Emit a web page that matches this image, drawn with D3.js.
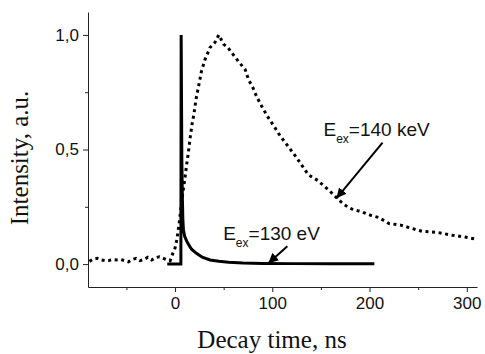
<!DOCTYPE html>
<html>
<head>
<meta charset="utf-8">
<script src="https://cdn.jsdelivr.net/npm/d3@7"></script>
<style>
  html, body { margin: 0; padding: 0; background: #fff; }
  svg { display: block; }
  .axis text { font-family: "Liberation Sans", Arial, sans-serif; font-size: 17px; fill: #111; }
  .axis path, .axis line { stroke: #222; stroke-width: 1; }
  .title { font-family: "Liberation Serif", "Times New Roman", serif; font-size: 25px; fill: #111; }
  .note { font-family: "Liberation Sans", Arial, sans-serif; font-size: 19px; fill: #111; }
</style>
</head>
<body>
<svg id="chart" width="485" height="354"></svg>
<script>
// ── Data ──
// 130 eV excitation: sharp peak, fast decay (solid)
const fastTime = [-8, 6, 6.3, 7, 7.5, 8, 8.6, 10, 12, 14, 17, 22, 28, 36, 45, 55, 70, 90, 120, 160, 205];
const fastVal  = [0, 0, 1.0, 0.45, 0.3, 0.2, 0.15, 0.12, 0.1, 0.085, 0.065, 0.047, 0.03, 0.018, 0.012, 0.008, 0.005, 0.003, 0.002, 0.001, 0.001];

// 140 keV excitation: slow rise and decay (dotted)
const slowTime = [-88, -84, -80, -76, -72, -68, -64, -60, -56, -52, -48, -44, -40, -36, -32, -28, -24, -20, -16, -12, -8, -5,
  -2, 0, 2, 4, 6, 8, 10, 11.5, 13.5, 15.5, 17.5, 19.6, 21.6, 24.4, 27.1, 30.6, 36, 41, 45, 49.8, 54.3, 60, 66, 72, 75.6,
  80, 84, 89, 95, 102, 108, 117, 124, 130.6, 137, 146.7, 158.8, 166, 173.5, 182, 192.5, 201, 209.6, 220, 232, 244, 254,
  270, 285, 297, 309];
const slowVal  = [0.012, 0.022, 0.025, 0.018, 0.015, 0.016, 0.02, 0.018, 0.02, 0.015, 0.01, 0.02, 0.025, 0.015, 0.02, 0.03, 0.018, 0.028, 0.032, 0.025, 0.018, 0.015,
  0.05, 0.07, 0.11, 0.17, 0.24, 0.31, 0.37, 0.42, 0.48, 0.55, 0.61, 0.66, 0.72, 0.78, 0.84, 0.89, 0.945, 0.967, 1.0, 0.96, 0.945, 0.913, 0.88, 0.85, 0.805,
  0.77, 0.73, 0.69, 0.645, 0.6, 0.56, 0.51, 0.47, 0.43, 0.39, 0.365, 0.32, 0.29, 0.26, 0.24, 0.227, 0.213, 0.203, 0.177, 0.17, 0.155, 0.143,
  0.138, 0.126, 0.119, 0.109];

const xTicks = [0, 100, 200, 300];
const xMinor = [-50, 50, 150, 250];
const yTicks = [0, 0.5, 1.0];
const yMinor = [0.25, 0.75];

// annotations in data coordinates: label anchor, arrow tail, arrow tip
const notes = [
  { main: 'E', sub: 'ex', rest: '=140 keV', at: [152.6, 0.56], from: [213.4, 0.53], to: [166, 0.287] },
  { main: 'E', sub: 'ex', rest: '=130 eV', at: [49.5, 0.104], from: [115.5, 0.078], to: [95.9, 0.004] }
];

const svg = d3.select('#chart');

const x = d3.scaleLinear().domain([-89.5, 310.5]).range([88, 477]);
const y = d3.scaleLinear().domain([-0.1, 1.1]).range([287, 12]);
const fmt = d => d3.format('.1f')(d).replace('.', ',');

// Axes
svg.append('g').attr('class', 'axis')
  .attr('transform', `translate(0,${y.range()[0]})`)
  .call(d3.axisBottom(x).tickValues(xTicks).tickSize(5).tickSizeOuter(0).tickPadding(5));
svg.append('g').attr('class', 'axis')
  .attr('transform', `translate(0,${y.range()[0]})`)
  .call(d3.axisBottom(x).tickValues(xMinor).tickSize(3).tickSizeOuter(0).tickFormat(''))
  .select('.domain').remove();

svg.append('g').attr('class', 'axis')
  .attr('transform', `translate(${x.range()[0]},0)`)
  .call(d3.axisLeft(y).tickValues(yTicks).tickFormat(fmt).tickSize(5).tickSizeOuter(0).tickPadding(4));
svg.append('g').attr('class', 'axis')
  .attr('transform', `translate(${x.range()[0]},0)`)
  .call(d3.axisLeft(y).tickValues(yMinor).tickSize(3).tickSizeOuter(0).tickFormat(''))
  .select('.domain').remove();

// Axis titles
svg.append('text').attr('class', 'title')
  .attr('text-anchor', 'middle')
  .attr('x', 272).attr('y', 348)
  .text('Decay time, ns');
svg.append('text').attr('class', 'title')
  .attr('text-anchor', 'middle')
  .attr('transform', 'translate(28,158) rotate(-90)')
  .text('Intensity, a.u.');

// Series
const line = d3.line().x(d => x(d[0])).y(d => y(d[1]));

svg.append('path')
  .datum(slowTime.map((t, i) => [t, slowVal[i]]))
  .attr('d', line)
  .attr('fill', 'none')
  .attr('stroke', '#000')
  .attr('stroke-width', 3)
  .attr('stroke-dasharray', '3,3.6');

svg.append('path')
  .datum(fastTime.map((t, i) => [t, fastVal[i]]))
  .attr('d', line)
  .attr('fill', 'none')
  .attr('stroke', '#000')
  .attr('stroke-width', 3)
  .attr('stroke-linejoin', 'miter');

// Annotations
svg.append('defs').append('marker')
  .attr('id', 'head')
  .attr('viewBox', '0 0 10 10')
  .attr('refX', 10).attr('refY', 5)
  .attr('markerWidth', 5).attr('markerHeight', 5)
  .attr('markerUnits', 'strokeWidth')
  .attr('orient', 'auto')
  .append('path').attr('d', 'M0,0 L10,5 L0,10 z').attr('fill', '#000');

notes.forEach(n => {
  svg.append('line')
    .attr('x1', x(n.from[0])).attr('y1', y(n.from[1]))
    .attr('x2', x(n.to[0])).attr('y2', y(n.to[1]))
    .attr('stroke', '#000').attr('stroke-width', 2)
    .attr('marker-end', 'url(#head)');

  const t = svg.append('text').attr('class', 'note')
    .attr('x', x(n.at[0])).attr('y', y(n.at[1]));
  t.append('tspan').text(n.main);
  t.append('tspan').attr('dy', 7).attr('font-size', 12).text(n.sub);
  t.append('tspan').attr('dy', -7).text(n.rest);
});
</script>
</body>
</html>
